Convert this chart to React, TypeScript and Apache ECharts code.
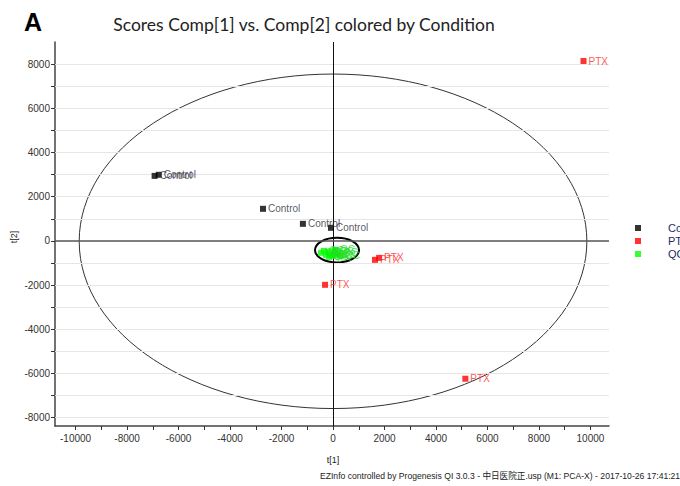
import React, { useEffect, useRef } from "react";
import * as echarts from "echarts";

const controlPoints: [number, number][] = [
  [-6930, 2940],
  [-6770, 2990],
  [-2720, 1450],
  [-1170, 770],
  [-80, 590],
];
const ptxPoints: [number, number][] = [
  [9730, 8140],
  [5140, -6240],
  [-310, -1990],
  [1630, -860],
  [1790, -770],
];
const qcPoints: [number, number][] = [
  [-467, -543],
  [-350, -452],
  [-272, -633],
  [-195, -498],
  [-117, -588],
  [-39, -679],
  [39, -498],
  [117, -633],
  [195, -543],
  [272, -679],
  [-156, -724],
  [78, -407],
];
// ellipses: [centerX, centerY, radiusX, radiusY, lineWidth]
const ellipses: [number, number, number, number, number][] = [
  [0, -20, 9860, 7570, 1],
  [155, -420, 856, 560, 2],
];
const xTicks = [-10000, -9000, -8000, -7000, -6000, -5000, -4000, -3000, -2000, -1000, 0, 1000, 2000, 3000, 4000, 5000, 6000, 7000, 8000, 9000, 10000];
const xLabels = [-10000, -8000, -6000, -4000, -2000, 0, 2000, 4000, 6000, 8000, 10000];
const yTicks = [-8000, -7000, -6000, -5000, -4000, -3000, -2000, -1000, 0, 1000, 2000, 3000, 4000, 5000, 6000, 7000, 8000];
const yLabels = [-8000, -6000, -4000, -2000, 0, 2000, 4000, 6000, 8000];
const categories = ["Control", "PTX", "QC"];
const colors = ["#000000", "#ff0000", "#00ff00"];
const labelColors = ["#2b2b3a", "#ff2a2a", "#22dd22"];

export default function App() {
  const ref = useRef<HTMLDivElement>(null);
  useEffect(() => {
    if (!ref.current) return;
    const chart = echarts.init(ref.current, undefined, { renderer: "svg" });
    const font = "'Liberation Sans', Arial, sans-serif";
    const sets = [controlPoints, ptxPoints, qcPoints];
    const scatter = categories.map((name, i) => ({
      name,
      type: "scatter",
      data: sets[i],
      symbol: "rect",
      symbolSize: 6,
      itemStyle: { color: colors[i] },
      z: 5,
      label: {
        show: true,
        position: "right",
        distance: 2,
        formatter: name,
        color: labelColors[i],
        fontSize: 10,
        fontFamily: font,
      },
      ...(i === 0
        ? {
            markLine: {
              silent: true,
              symbol: ["none", "none"],
              label: { show: false },
              data: [
                { xAxis: 0, lineStyle: { color: "#111", width: 1, type: "solid" } },
                { yAxis: 0, lineStyle: { color: "#555", width: 1.5, type: "solid" } },
              ],
            },
          }
        : {}),
    }));
    chart.setOption({
      animation: false,
      backgroundColor: "#ffffff",
      grid: { left: 55, right: 71, top: 42, bottom: 60, containLabel: false },
      legend: {
        data: categories,
        orient: "vertical",
        left: 630,
        top: 217,
        itemWidth: 6,
        itemHeight: 6,
        itemGap: 1,
        icon: "rect",
        textStyle: {
          color: "#1f2a66",
          fontSize: 11,
          fontFamily: font,
          lineHeight: 12,
          padding: [0, 0, 0, 22],
        },
      },
      xAxis: {
        type: "value",
        min: -10800,
        max: 10720,
        axisLine: { show: true, onZero: false, lineStyle: { color: "#444", width: 1.5 } },
        axisTick: { show: true, length: 4, customValues: xTicks, lineStyle: { color: "#333" } },
        axisLabel: {
          customValues: xLabels,
          formatter: (v: number) => String(v),
          color: "#333",
          fontSize: 10,
          fontFamily: font,
          margin: 7,
        },
        splitLine: { show: false },
      },
      yAxis: {
        type: "value",
        min: -8380,
        max: 9000,
        axisLine: { show: true, onZero: false, lineStyle: { color: "#444", width: 1.5 } },
        axisTick: { show: true, length: 4, customValues: yTicks, lineStyle: { color: "#333" } },
        axisLabel: {
          customValues: yLabels,
          formatter: (v: number) => String(v),
          color: "#333",
          fontSize: 10,
          fontFamily: font,
          margin: 5,
        },
        splitLine: { show: false },
      },
      graphic: [
        {
          type: "text",
          left: 24,
          top: 9,
          style: { text: "A", font: "bold 25px 'Liberation Sans', Arial, sans-serif", fill: "#000" },
        },
        {
          type: "text",
          x: 304,
          y: 24,
          style: {
            text: "Scores Comp[1] vs. Comp[2] colored by Condition",
            font: "17.5px Lato, sans-serif",
            fill: "#222",
            textAlign: "center",
            textVerticalAlign: "middle",
          },
        },
        {
          type: "text",
          x: 333,
          y: 460,
          style: { text: "t[1]", font: "9px 'Liberation Sans', Arial, sans-serif", fill: "#222", textAlign: "center", textVerticalAlign: "middle" },
        },
        {
          type: "text",
          x: 14,
          y: 237,
          rotation: Math.PI / 2,
          style: { text: "t[2]", font: "9px 'Liberation Sans', Arial, sans-serif", fill: "#222", textAlign: "center", textVerticalAlign: "middle" },
        },
        {
          type: "text",
          x: 320,
          y: 476,
          style: {
            text: "EZInfo controlled by Progenesis QI 3.0.3 - 中日医院正.usp (M1: PCA-X) - 2017-10-26 17:41:21",
            font: "8.6px 'Liberation Sans', Arial, 'Noto Sans CJK SC', sans-serif",
            fill: "#222",
            textVerticalAlign: "middle",
          },
        },
      ],
      series: [
        {
          name: "grid",
          type: "line",
          data: [],
          silent: true,
          z: 1,
          markLine: {
            silent: true,
            symbol: ["none", "none"],
            label: { show: false },
            lineStyle: { color: "#e6e6e6", width: 1, type: "solid" },
            data: yTicks.filter((v) => v !== 0).map((v) => ({ yAxis: v })),
          },
        },
        {
          name: "ellipses",
          type: "custom",
          data: ellipses,
          z: 3,
          silent: true,
          renderItem: (params: any, api: any) => {
            const cx = api.value(0);
            const cy = api.value(1);
            const rx = api.value(2);
            const ry = api.value(3);
            const w = api.value(4);
            const c = api.coord([cx, cy]);
            const e = api.coord([cx + rx, cy + ry]);
            return {
              type: "ellipse",
              shape: { cx: c[0], cy: c[1], rx: Math.abs(e[0] - c[0]), ry: Math.abs(c[1] - e[1]) },
              style: { fill: "none", stroke: w > 1 ? "#000" : "#333", lineWidth: w },
            };
          },
        },
        ...scatter,
      ],
    });
    return () => chart.dispose();
  }, []);
  return (
    <div
      ref={ref}
      style={{ position: "absolute", left: 0, top: 0, width: 680, height: 486, overflow: "hidden" }}
    />
  );
}
